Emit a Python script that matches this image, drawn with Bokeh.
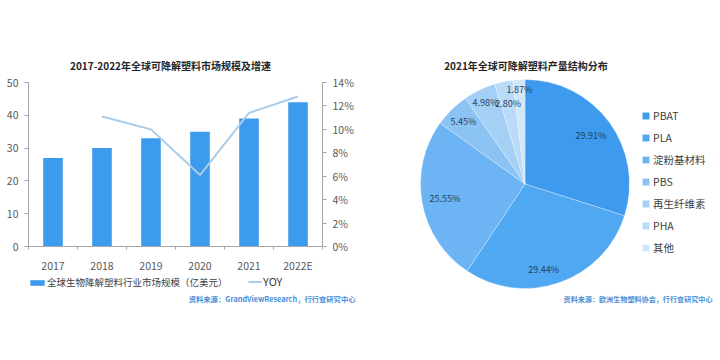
import numpy as np
from bokeh.plotting import figure
from bokeh.models import (Range1d, LinearAxis, FixedTicker, NumeralTickFormatter, Label,
                          Legend, LegendItem, ColumnDataSource)
from bokeh.layouts import row
from bokeh.embed import file_html
from bokeh.resources import INLINE
from bokeh.core.properties import value

# ---------------- data ----------------
years = ["2017", "2018", "2019", "2020", "2021", "2022E"]
market = [27, 30, 33, 35, 39, 44]
yoy_years = ["2018", "2019", "2020", "2021", "2022E"]
yoy = [0.111, 0.100, 0.061, 0.114, 0.128]
left_ticks = [0, 10, 20, 30, 40, 50]
right_ticks = [0, 0.02, 0.04, 0.06, 0.08, 0.10, 0.12, 0.14]

pie_names = ["PBAT", "PLA", "淀粉基材料", "PBS", "再生纤维素", "PHA", "其他"]
pie_share = [29.91, 29.44, 25.55, 5.45, 4.98, 2.80, 1.87]

title_left = "2017-2022年全球可降解塑料市场规模及增速"
title_right = "2021年全球可降解塑料产量结构分布"
bar_name = "全球生物降解塑料行业市场规模（亿美元）"
line_name = "YOY"
src_left = "资料来源：GrandViewResearch，行行查研究中心"
src_right = "资料来源：欧洲生物塑料协会，行行查研究中心"

# ---------------- styles / layout ----------------
FONT = "Noto Sans CJK SC"
BAR_COLOR = "#3d9bee"
LINE_COLOR = "#a9cce8"
AXIS_COLOR = "#a6a6a6"
TICK_TEXT = "#595959"
SRC_COLOR = "#4a8fd8"
pie_colors = ["#3d9aee", "#50a7f2", "#6db4f4", "#8cc3f5", "#a5d0f6", "#badbf8", "#d0e6f9"]
label_rfrac = [0.78, 0.84, 0.78, 0.84, 0.87, 0.79, 0.905]
label_dang = [0, 7, 0, 0, 0, 0, 0]   # clockwise nudge of label angle, degrees

W, H = 360, 360
AX_LEFT, AX_RIGHT = 28, 322       # pixel columns of the two value axes
AX_TOP, AX_BOT = 82, 246          # pixel rows of the axis max / zero
YMAX, PMAX = 50, 0.14
n = len(years)
ppx = (AX_RIGHT - AX_LEFT) / n
x_lo, x_hi = -AX_LEFT / ppx, (W - AX_LEFT) / ppx
ppu = (AX_BOT - AX_TOP) / YMAX
y_lo, y_hi = -(H - AX_BOT) / ppu, AX_BOT / ppu
pp2 = (AX_BOT - AX_TOP) / PMAX
p_lo, p_hi = -(H - AX_BOT) / pp2, AX_BOT / pp2

xc = [i + 0.5 for i in range(n)]
xb = list(range(n + 1))
pos = dict(zip(years, xc))
yoy_x = [pos[y] for y in yoy_years]

# ---------------- left chart ----------------
p1 = figure(width=W, height=H, x_range=Range1d(x_lo, x_hi), y_range=Range1d(y_lo, y_hi),
            output_backend="svg", toolbar_location=None, min_border=0)
p1.outline_line_color = None
p1.xgrid.visible = False
p1.ygrid.visible = False
p1.extra_y_ranges = {"yoy": Range1d(p_lo, p_hi)}

bars = p1.vbar(x=xc, top=market, width=0.4, fill_color=BAR_COLOR, line_color=None)
line = p1.line(x=yoy_x, y=yoy, y_range_name="yoy", line_color=LINE_COLOR, line_width=2)

ya = p1.yaxis[0]
ya.fixed_location = 0
ya.ticker = FixedTicker(ticks=left_ticks)
ya.bounds = (0, YMAX)
ya.axis_line_color = AXIS_COLOR
ya.major_tick_line_color = AXIS_COLOR
ya.major_tick_out = 4
ya.major_tick_in = 0
ya.minor_tick_line_color = None
ya.major_label_standoff = 6
ya.major_label_text_font = FONT
ya.major_label_text_font_size = "10.5px"
ya.major_label_text_color = TICK_TEXT

rax = LinearAxis(y_range_name="yoy", ticker=FixedTicker(ticks=right_ticks),
                 formatter=NumeralTickFormatter(format="0%"), bounds=(0, PMAX),
                 fixed_location=n)
rax.axis_line_color = AXIS_COLOR
rax.major_tick_line_color = AXIS_COLOR
rax.major_tick_out = 4
rax.major_tick_in = 0
rax.minor_tick_line_color = None
rax.major_label_standoff = 6
rax.major_label_text_font = FONT
rax.major_label_text_font_size = "10.5px"
rax.major_label_text_color = TICK_TEXT
p1.add_layout(rax, "right")

xa = p1.xaxis[0]
xa.fixed_location = 0
xa.ticker = FixedTicker(ticks=xc, minor_ticks=xb)
xa.major_label_overrides = {c: y for c, y in zip(xc, years)}
xa.bounds = (-0.04, n + 0.04)
xa.axis_line_color = AXIS_COLOR
xa.major_tick_line_color = None
xa.major_tick_out = 0
xa.minor_tick_line_color = AXIS_COLOR
xa.minor_tick_out = 3
xa.minor_tick_in = 0
xa.major_label_standoff = 8
xa.major_label_text_font = FONT
xa.major_label_text_font_size = "10.5px"
xa.major_label_text_color = TICK_TEXT

p1.add_layout(Label(x=170, y=H - 65, x_units="screen", y_units="screen", text=title_left,
                    text_align="center", text_baseline="middle", text_font=FONT,
                    text_font_size="10px", text_font_style="bold", text_color="#262626"))
p1.add_layout(Label(x=355, y=H - 298, x_units="screen", y_units="screen", text=src_left,
                    text_align="right", text_baseline="middle", text_font=FONT,
                    text_font_size="7.3px", text_font_style="bold", text_color=SRC_COLOR))

lg1 = Legend(items=[LegendItem(label=bar_name, renderers=[bars])], location=(28, H - 289),
             orientation="horizontal", glyph_width=18, glyph_height=7, label_height=14,
             label_standoff=1, padding=0, margin=0, border_line_color=None,
             background_fill_alpha=0, label_text_font=FONT, label_text_font_size="9.5px",
             label_text_color="#404040")
lg2 = Legend(items=[LegendItem(label=line_name, renderers=[line])], location=(248, H - 289),
             orientation="horizontal", glyph_width=14, glyph_height=7, label_height=14,
             label_standoff=1, padding=0, margin=0, border_line_color=None,
             background_fill_alpha=0, label_text_font=FONT, label_text_font_size="11px",
             label_text_color="#404040")
p1.add_layout(lg1)
p1.add_layout(lg2)

# ---------------- right chart (pie) ----------------
p2 = figure(width=W, height=H, x_range=Range1d(0, W), y_range=Range1d(0, H),
            x_axis_type=None, y_axis_type=None, output_backend="svg",
            toolbar_location=None, min_border=0)
p2.outline_line_color = None
p2.xgrid.visible = False
p2.ygrid.visible = False

cx, cy, R = 164.5, H - 183.5, 104.5
share = np.array(pie_share) / 100.0
cum = np.concatenate([[0], np.cumsum(share)])
start = np.pi / 2 - 2 * np.pi * cum[:-1]
end = np.pi / 2 - 2 * np.pi * cum[1:]
mid = (start + end) / 2 - np.radians(label_dang)
src = ColumnDataSource(dict(start=start, end=end, color=pie_colors, name=pie_names))
wedges = p2.wedge(x=cx, y=cy, radius=R, start_angle="start", end_angle="end",
                  direction="clock", fill_color="color", line_color="white",
                  line_width=0.6, line_alpha=0.5, source=src)

lr = np.array(label_rfrac) * R
lab_src = ColumnDataSource(dict(x=cx + lr * np.cos(mid), y=cy + lr * np.sin(mid),
                                t=[f"{v:.2f}%" for v in pie_share]))
p2.text(x="x", y="y", text="t", source=lab_src, text_align="center", text_baseline="middle",
        text_font=value(FONT), text_font_size="9px", text_color="#24405e")

lg3 = Legend(items=[LegendItem(label=nm, renderers=[wedges], index=i) for i, nm in enumerate(pie_names)],
             location=(281, H - 255), orientation="vertical", glyph_width=9, glyph_height=9,
             label_height=14, spacing=7, label_standoff=3, padding=0, margin=0,
             border_line_color=None, background_fill_alpha=0, label_text_font=FONT,
             label_text_font_size="10.5px", label_text_color="#404040")
p2.add_layout(lg3)

p2.add_layout(Label(x=165.5, y=H - 65, x_units="screen", y_units="screen", text=title_right,
                    text_align="center", text_baseline="middle", text_font=FONT,
                    text_font_size="10px", text_font_style="bold", text_color="#262626"))
p2.add_layout(Label(x=352, y=H - 298, x_units="screen", y_units="screen", text=src_right,
                    text_align="right", text_baseline="middle", text_font=FONT,
                    text_font_size="7.1px", text_font_style="bold", text_color=SRC_COLOR))

layout = row(p1, p2)
open("out.html", "w").write(file_html(layout, INLINE))
